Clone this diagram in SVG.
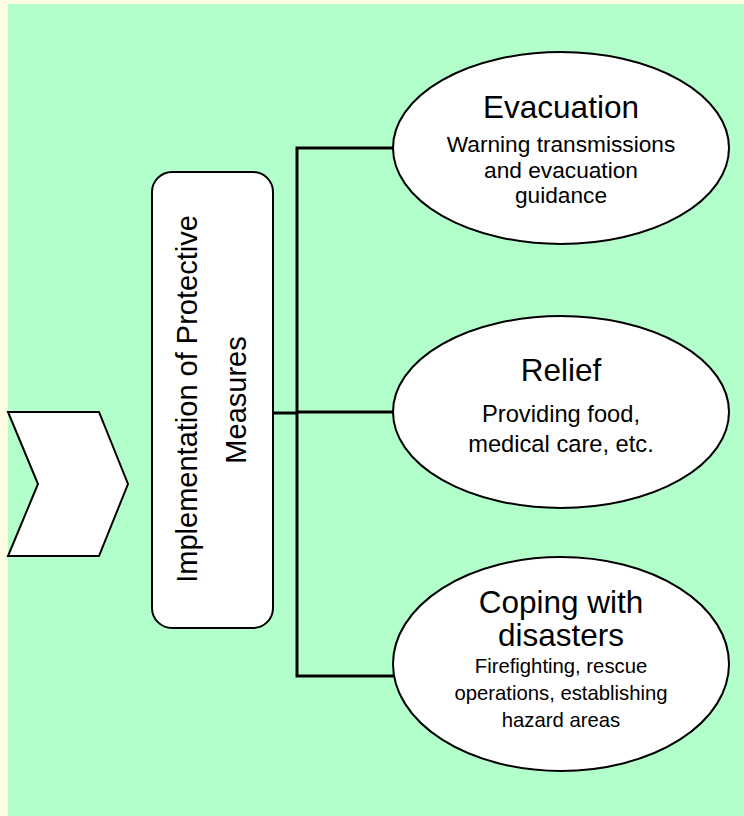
<svg xmlns="http://www.w3.org/2000/svg" width="744" height="816" viewBox="0 0 744 816">
<defs>
<style>
.shape{fill:#ffffff;stroke:#000000;stroke-width:2}
.conn{fill:none;stroke:#000000;stroke-width:3;stroke-linejoin:miter;stroke-linecap:square}
text{font-family:"Liberation Sans",Arial,sans-serif;fill:#000000;text-anchor:middle}
.title{font-size:31.5px}
.sub{font-size:22.7px}
.sub2{font-size:23.7px}
.sub3{font-size:20.3px}
.vert{font-size:29px}
</style>
</defs>
<rect x="0" y="0" width="744" height="816" fill="#FFFDE1"/>
<rect x="8" y="4" width="736" height="812" fill="#B3FFCB"/>
<g id="connectors">
<path class="conn" d="M273,413 H297 M297,148 V676 M297,148 H393 M297,412 H393 M297,676 H394"/>
</g>
<g id="chevron">
<polygon class="shape" points="8,412 99,412 128,484 99,556 8,556 38,484" stroke-width="1.5"/>
</g>
<g id="implementation">
<rect class="shape" x="152" y="172" width="121" height="456" rx="20" ry="20"/>
<text class="vert" transform="translate(197,399) rotate(-90)">Implementation of Protective</text>
<text class="vert" transform="translate(246,400) rotate(-90)">Measures</text>
</g>
<g id="evacuation">
<ellipse class="shape" cx="561" cy="148" rx="168" ry="96"/>
<text class="title" x="561" y="118">Evacuation</text>
<text class="sub" x="561" y="152">Warning transmissions</text>
<text class="sub" x="561" y="178">and evacuation</text>
<text class="sub" x="561" y="203">guidance</text>
</g>
<g id="relief">
<ellipse class="shape" cx="561" cy="412" rx="168" ry="96"/>
<text class="title" x="561" y="381">Relief</text>
<text class="sub2" x="561" y="422">Providing food,</text>
<text class="sub2" x="561" y="452">medical care, etc.</text>
</g>
<g id="coping">
<ellipse class="shape" cx="561" cy="664" rx="168" ry="107"/>
<text class="title" x="561" y="613">Coping with</text>
<text class="title" x="561" y="646">disasters</text>
<text class="sub3" x="561" y="673">Firefighting, rescue</text>
<text class="sub3" x="561" y="700">operations, establishing</text>
<text class="sub3" x="561" y="727">hazard areas</text>
</g>
</svg>
